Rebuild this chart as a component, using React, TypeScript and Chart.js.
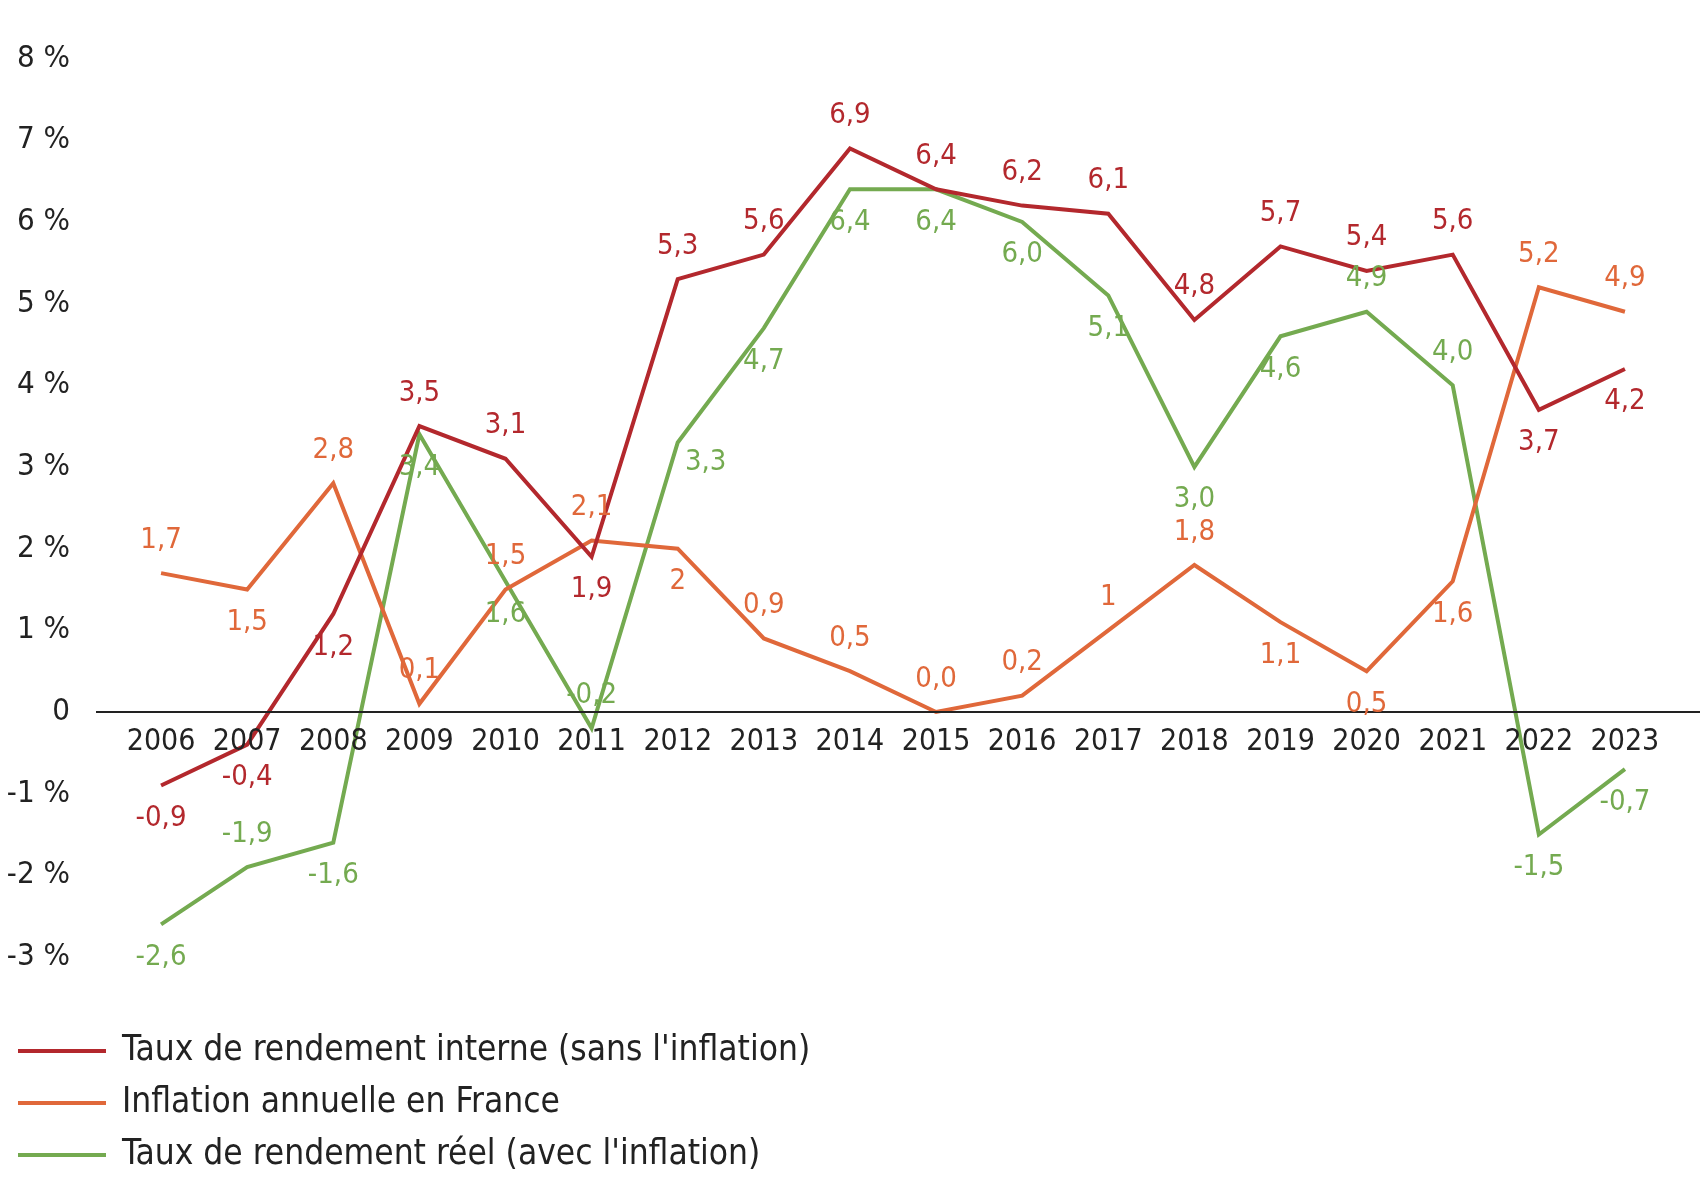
import React, { useEffect, useRef } from "react";
import { Chart, registerables } from "chart.js";
Chart.register(...registerables);

const years = ["2006","2007","2008","2009","2010","2011","2012","2013","2014","2015","2016","2017","2018","2019","2020","2021","2022","2023"];
const tri = [-0.9,-0.4,1.2,3.5,3.1,1.9,5.3,5.6,6.9,6.4,6.2,6.1,4.8,5.7,5.4,5.6,3.7,4.2];
const triLabels = ["-0,9","-0,4","1,2","3,5","3,1","1,9","5,3","5,6","6,9","6,4","6,2","6,1","4,8","5,7","5,4","5,6","3,7","4,2"];
const triPos = "bbbaabaaaaaaaaaabb";
const infl = [1.7,1.5,2.8,0.1,1.5,2.1,2,0.9,0.5,0.0,0.2,1,1.8,1.1,0.5,1.6,5.2,4.9];
const inflLabels = ["1,7","1,5","2,8","0,1","1,5","2,1","2","0,9","0,5","0,0","0,2","1","1,8","1,1","0,5","1,6","5,2","4,9"];
const inflPos = "abaaaabaaaaaabbbaa";
const reel = [-2.6,-1.9,-1.6,3.4,1.6,-0.2,3.3,4.7,6.4,6.4,6.0,5.1,3.0,4.6,4.9,4.0,-1.5,-0.7];
const reelLabels = ["-2,6","-1,9","-1,6","3,4","1,6","-0,2","3,3","4,7","6,4","6,4","6,0","5,1","3,0","4,6","4,9","4,0","-1,5","-0,7"];
const reelPos = "babbbarbbbbbbbaabb";
const names = ["Taux de rendement interne (sans l'inflation)", "Inflation annuelle en France", "Taux de rendement réel (avec l'inflation)"];
const colors = ["#b3282d", "#e0683a", "#74aa50"];
const FONT = "'Liberation Sans Narrow', 'DejaVu Sans Condensed', 'Roboto', sans-serif";

export default function App() {
  const ref = useRef<HTMLCanvasElement>(null);
  useEffect(() => {
    const labelsAll = [triLabels, inflLabels, reelLabels];
    const posAll = [triPos, inflPos, reelPos];
    const custom = {
      id: "custom",
      afterDraw(chart: any) {
        const ctx = chart.ctx;
        const y = chart.scales.y, x = chart.scales.x;
        const y0 = y.getPixelForValue(0);
        ctx.save();
        ctx.strokeStyle = "#222"; ctx.lineWidth = 2;
        ctx.beginPath(); ctx.moveTo(96, y0); ctx.lineTo(1700, y0); ctx.stroke();
        ctx.fillStyle = "#222"; ctx.font = `30px ${FONT}`;
        ctx.textAlign = "center"; ctx.textBaseline = "middle";
        years.forEach((yr, i) => ctx.fillText(yr, x.getPixelForValue(i), y0 + 30));
        ctx.font = `29px ${FONT}`;
        chart.data.datasets.forEach((ds: any, di: number) => {
          const meta = chart.getDatasetMeta(di);
          ctx.fillStyle = colors[di];
          meta.data.forEach((pt: any, i: number) => {
            const p = posAll[di][i];
            let dx = 0, dy = p === "a" ? -33 : 33;
            if (p === "r") { dx = 28; dy = 20; }
            ctx.fillText(labelsAll[di][i], pt.x + dx, pt.y + dy);
          });
        });
        ctx.font = `35px ${FONT}`; ctx.textAlign = "left";
        names.forEach((n, i) => {
          const ly = 1051 + i * 52;
          ctx.strokeStyle = colors[i]; ctx.lineWidth = 4;
          ctx.beginPath(); ctx.moveTo(18, ly); ctx.lineTo(106, ly); ctx.stroke();
          ctx.fillStyle = "#222"; ctx.fillText(n, 122, ly);
        });
        ctx.restore();
      },
    };
    const chart = new Chart(ref.current!, {
      type: "line",
      data: {
        labels: years,
        datasets: [tri, infl, reel].map((d, i) => ({
          label: names[i], data: d, borderColor: colors[i], borderWidth: 4,
          pointRadius: 0, tension: 0, fill: false,
        })),
      },
      options: {
        animation: false, responsive: false, maintainAspectRatio: false,
        layout: { padding: { top: 40, right: 40, bottom: 225, left: 0 } },
        plugins: { legend: { display: false }, tooltip: { enabled: false } },
        scales: {
          x: { offset: true, grid: { display: false }, border: { display: false }, ticks: { display: false } },
          y: {
            min: -3, max: 8, afterFit: (s: any) => { s.width = 118; },
            grid: { display: false }, border: { display: false },
            ticks: {
              stepSize: 1, color: "#222", font: { size: 31, family: FONT }, padding: 40,
              callback: (v: any) => (v === 0 ? "0" : `${v} %`),
            },
          },
        },
      },
      plugins: [custom],
    });
    return () => chart.destroy();
  }, []);
  return (
    <div style={{ position: "fixed", left: 0, top: 0, width: 1708, height: 1190, background: "#fff" }}>
      <canvas ref={ref} width={1708} height={1190} style={{ width: 1708, height: 1190 }} />
    </div>
  );
}
